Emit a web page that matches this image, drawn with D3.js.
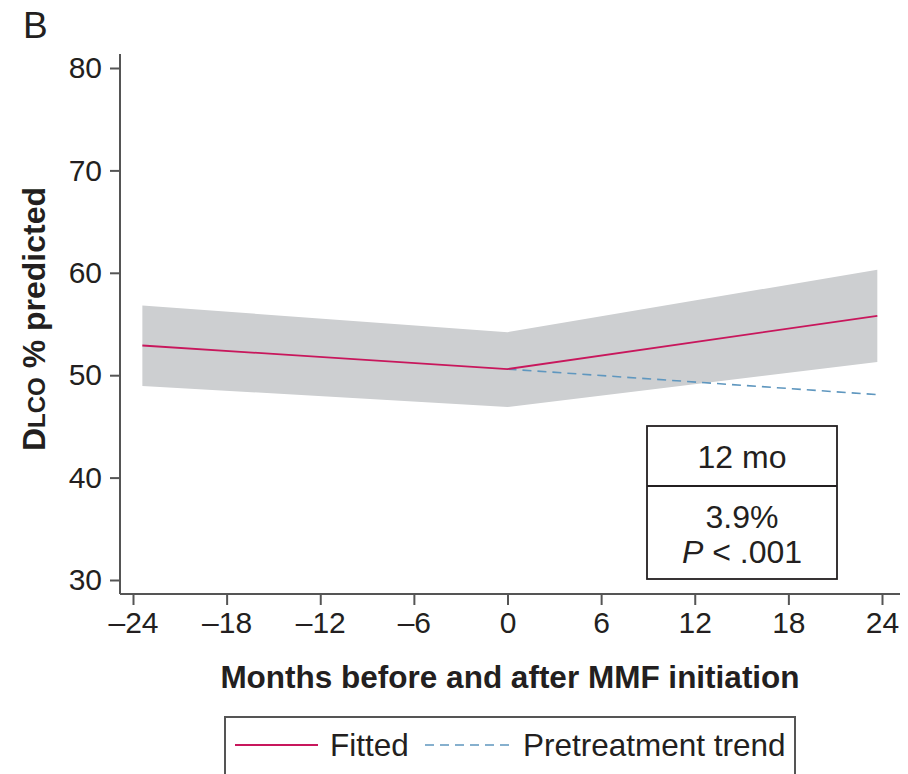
<!DOCTYPE html>
<html><head><meta charset="utf-8">
<script src="https://cdn.jsdelivr.net/npm/d3@7"></script>
<style>body{margin:0;background:#fff}svg{display:block}text{font-family:"Liberation Sans",Arial,sans-serif;fill:#231f20}</style>
</head><body><svg id="c" width="908" height="774"></svg>
<script>
const months = [-23.4, 0, 23.7];
const fitted = [52.9, 50.6, 55.8];
const ciUpper = [56.8, 54.2, 60.3];
const ciLower = [48.95, 46.9, 51.3];
const trendMonths = [0, 23.7];
const trendValues = [50.6, 48.1];
const xTicks = [-24, -18, -12, -6, 0, 6, 12, 18, 24];
const yTicks = [30, 40, 50, 60, 70, 80];
const boxLines = ["12 mo", "3.9%", "P < .001"];
const legendItems = ["Fitted", "Pretreatment trend"];

const svg = d3.select("#c");
const x = d3.scaleLinear().domain([-24, 24]).range([133, 882]);
const y = d3.scaleLinear().domain([30, 80]).range([580, 68]);
const axisColor = "#555";
const FS = 30, FL = 31.5;

// band
const pts = months.map((m,i)=>({m, u:ciUpper[i], l:ciLower[i], f:fitted[i]}));
svg.append("path").datum(pts)
  .attr("d", d3.area().x(d=>x(d.m)).y0(d=>y(d.l)).y1(d=>y(d.u)))
  .attr("fill", "#cdcfd1");
// trend
svg.append("path").datum(trendMonths.map((m,i)=>({m, v:trendValues[i]})))
  .attr("d", d3.line().x(d=>x(d.m)).y(d=>y(d.v)))
  .attr("fill","none").attr("stroke","#5f97bf").attr("stroke-width",1.6).attr("stroke-dasharray","9,6");
// fitted
svg.append("path").datum(pts)
  .attr("d", d3.line().x(d=>x(d.m)).y(d=>y(d.f)))
  .attr("fill","none").attr("stroke","#c8175c").attr("stroke-width",1.8);

// y axis
const yAxis = svg.append("g").attr("transform","translate(120,0)")
  .call(d3.axisLeft(y).tickValues(yTicks).tickSize(10).tickPadding(8));
yAxis.select(".domain").attr("d","M0,54V594");
// x axis
const xAxis = svg.append("g").attr("transform","translate(0,594)")
  .call(d3.axisBottom(x).tickValues(xTicks).tickSize(11).tickPadding(7)
    .tickFormat(d=> d<0 ? "\u2013"+Math.abs(d) : d));
xAxis.select(".domain").attr("d","M120,0H900");
[yAxis,xAxis].forEach(a=>{
  a.selectAll(".domain,.tick line").attr("stroke",axisColor).attr("stroke-width",2);
  a.selectAll("text").attr("font-size",FS).attr("fill","#231f20")
   .style("font-family",'"Liberation Sans",Arial,sans-serif');
});

// titles
svg.append("text").attr("x",23).attr("y",38).attr("font-size",37).text("B");
const yl = svg.append("text").attr("transform","translate(45,319) rotate(-90)")
  .attr("text-anchor","middle").attr("font-weight","bold").attr("font-size",32);
yl.append("tspan").text("D");
yl.append("tspan").attr("font-size",24).text("LCO");
yl.append("tspan").text(" % predicted");
svg.append("text").attr("x",510).attr("y",688).attr("text-anchor","middle")
  .attr("font-weight","bold").attr("font-size",31.5).text("Months before and after MMF initiation");

// annotation box
const bx = 647, bw = 190, by = 426, bh = 153;
svg.append("rect").attr("x",bx).attr("y",by).attr("width",bw).attr("height",bh)
  .attr("fill","#fff").attr("stroke","#231f20").attr("stroke-width",1.8);
svg.append("line").attr("x1",bx).attr("x2",bx+bw).attr("y1",486).attr("y2",486)
  .attr("stroke","#231f20").attr("stroke-width",1.8);
svg.append("text").attr("x",bx+bw/2).attr("y",468).attr("text-anchor","middle").attr("font-size",32).text(boxLines[0]);
svg.append("text").attr("x",bx+bw/2).attr("y",528).attr("text-anchor","middle").attr("font-size",32).text(boxLines[1]);
const pt = svg.append("text").attr("x",bx+bw/2).attr("y",563).attr("text-anchor","middle").attr("font-size",32);
pt.append("tspan").attr("font-style","italic").text("P");
pt.append("tspan").text(boxLines[2].slice(1));

// legend
svg.append("rect").attr("x",225).attr("y",717).attr("width",570).attr("height",80)
  .attr("fill","#fff").attr("stroke","#555").attr("stroke-width",2);
svg.append("line").attr("x1",235).attr("x2",318).attr("y1",745).attr("y2",745)
  .attr("stroke","#c8175c").attr("stroke-width",2);
svg.append("text").attr("x",330).attr("y",756).attr("font-size",FL).text(legendItems[0]);
svg.append("line").attr("x1",425).attr("x2",510).attr("y1",745).attr("y2",745)
  .attr("stroke","#5f97bf").attr("stroke-width",1.6).attr("stroke-dasharray","9,6");
svg.append("text").attr("x",523).attr("y",756).attr("font-size",FL).text(legendItems[1]);
</script></body></html>
